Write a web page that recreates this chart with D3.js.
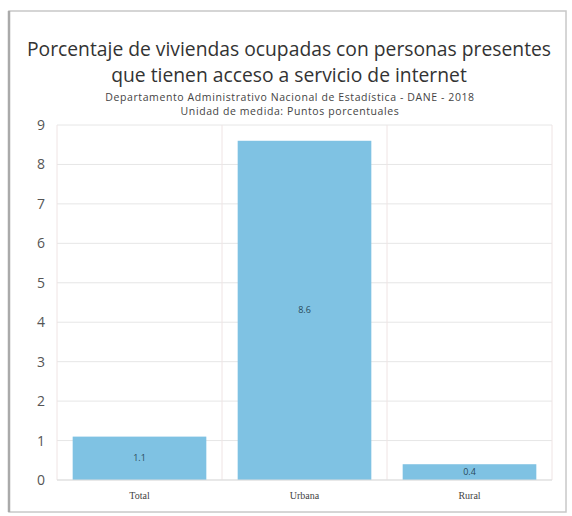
<!DOCTYPE html>
<html><head><meta charset="utf-8">
<script src="https://cdn.jsdelivr.net/npm/d3@7/dist/d3.min.js"></script>
<style>
body{margin:0;background:#fff;}
</style></head>
<body>
<svg id="c" width="572" height="516"></svg>
<script>
const categories = ["Total", "Urbana", "Rural"];
const values = [1.1, 8.6, 0.4];
const valueLabels = ["1.1", "8.6", "0.4"];
const yTicks = [0,1,2,3,4,5,6,7,8,9];
const titleLines = ["Porcentaje de viviendas ocupadas con personas presentes", "que tienen acceso a servicio de internet"];
const subtitleLines = ["Departamento Administrativo Nacional de Estadística - DANE - 2018", "Unidad de medida: Puntos porcentuales"];

const svg = d3.select("#c");
// card
svg.append("rect").attr("x",9).attr("y",11).attr("width",557).attr("height",501)
  .attr("fill","#fff").attr("stroke","#c8c8c8").attr("stroke-width",1.5);
svg.append("line").attr("x1",9).attr("x2",9).attr("y1",11).attr("y2",512).attr("stroke","#aaa").attr("stroke-width",2.5);

const font = "'Open Sans', 'Noto Sans', sans-serif";
svg.selectAll("text.title").data(titleLines).join("text")
  .attr("x",289).attr("y",(d,i)=>56+i*26).attr("text-anchor","middle")
  .attr("font-family",font).attr("font-size",19.3).attr("fill","#333").text(d=>d);
svg.selectAll("text.sub").data(subtitleLines).join("text")
  .attr("x",290).attr("y",(d,i)=>101+i*14).attr("text-anchor","middle")
  .attr("font-family",font).attr("font-size",10.5).attr("letter-spacing",0.6).attr("fill","#444").text(d=>d);

const x = d3.scaleBand().domain(categories).range([57,552]).paddingInner(0.19).paddingOuter(0.095);
const xb = d3.scaleBand().domain(categories).range([57,552]);
const y = d3.scaleLinear().domain([0,9]).range([480,125]);

// horizontal grid
svg.append("g").selectAll("line").data(yTicks).join("line")
  .attr("x1",57).attr("x2",552).attr("y1",d=>y(d)).attr("y2",d=>y(d))
  .attr("stroke","#e6e6e6").attr("stroke-width",1);
// vertical band dividers
const dividers = categories.map(c=>xb(c)).concat([552]);
svg.append("g").selectAll("line").data(dividers).join("line")
  .attr("x1",d=>d).attr("x2",d=>d).attr("y1",125).attr("y2",480)
  .attr("stroke","#efe4e4").attr("stroke-width",1);

// y axis labels
const yAxis = d3.axisLeft(y).tickValues(yTicks).tickSize(0).tickPadding(8).tickFormat(d3.format("d"));
const gy = svg.append("g").attr("transform","translate(53,0)").call(yAxis);
gy.select(".domain").remove();
gy.selectAll("text").attr("font-family",font).attr("font-size",14).attr("fill","#555");

// bars
svg.append("g").selectAll("rect").data(values).join("rect")
  .attr("x",(d,i)=>x(categories[i])).attr("width",x.bandwidth())
  .attr("y",d=>y(d)).attr("height",d=>y(0)-y(d)).attr("fill","#7fc2e3");
// value labels
svg.append("g").selectAll("text").data(values).join("text")
  .attr("x",(d,i)=>x(categories[i])+x.bandwidth()/2).attr("y",d=>(y(d)+y(0))/2+3)
  .attr("text-anchor","middle").attr("font-family",font).attr("font-size",9).attr("fill","#2a4a5a")
  .text((d,i)=>valueLabels[i]);

// baseline
svg.append("line").attr("x1",57).attr("x2",552).attr("y1",480).attr("y2",480).attr("stroke","#ddd");

// x axis
const xAxis = d3.axisBottom(xb).tickSize(0).tickPadding(11);
const gx = svg.append("g").attr("transform","translate(0,481)").call(xAxis);
gx.select(".domain").remove();
gx.selectAll("text").attr("font-family","'Liberation Serif', serif").attr("font-size",10).attr("fill","#444");
</script>
</body></html>
